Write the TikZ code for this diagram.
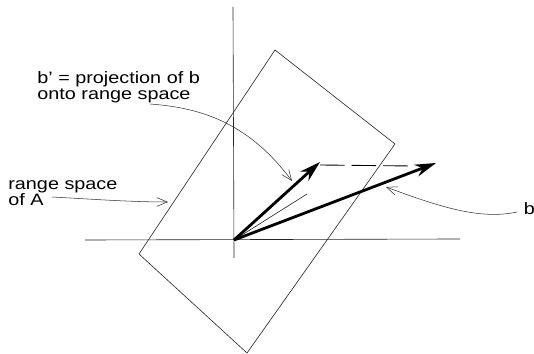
\documentclass[tikz,border=0pt]{standalone}
\usepackage{fontspec}
\setmainfont[FakeStretch=1.2]{Liberation Sans}
\usetikzlibrary{arrows.meta}
\tikzset{
  thinline/.style={line width=0.35pt, black!85},
  pointer/.style={line width=0.3pt, black!80, -{Straight Barb[length=6pt,width=5pt]}},
  vect/.style={line width=1.6pt, -{Stealth[length=12pt,width=7pt]}},
  lbl/.style={font=\fontsize{9.4}{9}\selectfont, align=left, anchor=west, inner sep=0pt}
}
\begin{document}
\begin{tikzpicture}[x=0.02cm,y=-0.02cm]
  \useasboundingbox (0,0) rectangle (534,354);
  \coordinate (orig) at (234,240);
  \coordinate (axisL) at (85,240);
  \coordinate (axisR) at (460,239);
  \coordinate (axisT) at (233,7);
  \coordinate (axisB) at (234,258);
  \coordinate (planeT) at (275,50);
  \coordinate (planeR) at (395,144);
  \coordinate (planeB) at (247,353);
  \coordinate (planeL) at (139,254);
  \coordinate (bprime) at (320,162);
  \coordinate (btip) at (436,163);
  \coordinate (thinEnd) at (307,194);
  \coordinate (dashA) at (320,165);
  \coordinate (dashB) at (412,166);
  \coordinate (ptrA) at (292,181);
  \coordinate (ptrB) at (168,202);
  \coordinate (ptrC) at (386,187);
  \node[lbl] (projLbl) at (37,87) {b' = projection of b\\onto range space};
  \node[lbl] (rangeLbl) at (8,193) {range space\\of A};
  \node[lbl] (bLbl) at (523.5,209) {b};
  \coordinate (ptrStartA) at (150,104);
  \coordinate (ptrStartB) at (52,197);
  \coordinate (ptrStartC) at (517,212);
  % axes and plane
  \draw[thinline] (axisL) -- (axisR);
  \draw[thinline] (axisT) -- (axisB);
  \draw[thinline] (planeT) -- (planeR) -- (planeB) -- (planeL) -- cycle;
  \draw[thinline] (orig) -- (thinEnd);
  % vectors
  \draw[vect] (orig) -- (bprime);
  \draw[vect] (orig) -- (btip);
  \draw[line width=0.5pt, dash pattern=on 14pt off 4pt] (dashA) -- (dashB);
  % pointers
  \draw[pointer] (ptrStartA) .. controls (205,108) and (250,125) .. (ptrA);
  \draw[pointer] (ptrStartB) .. controls (90,199) and (130,202) .. (ptrB);
  \draw[pointer] (ptrStartC) .. controls (480,220) and (440,207) .. (ptrC);
\end{tikzpicture}
\end{document}
